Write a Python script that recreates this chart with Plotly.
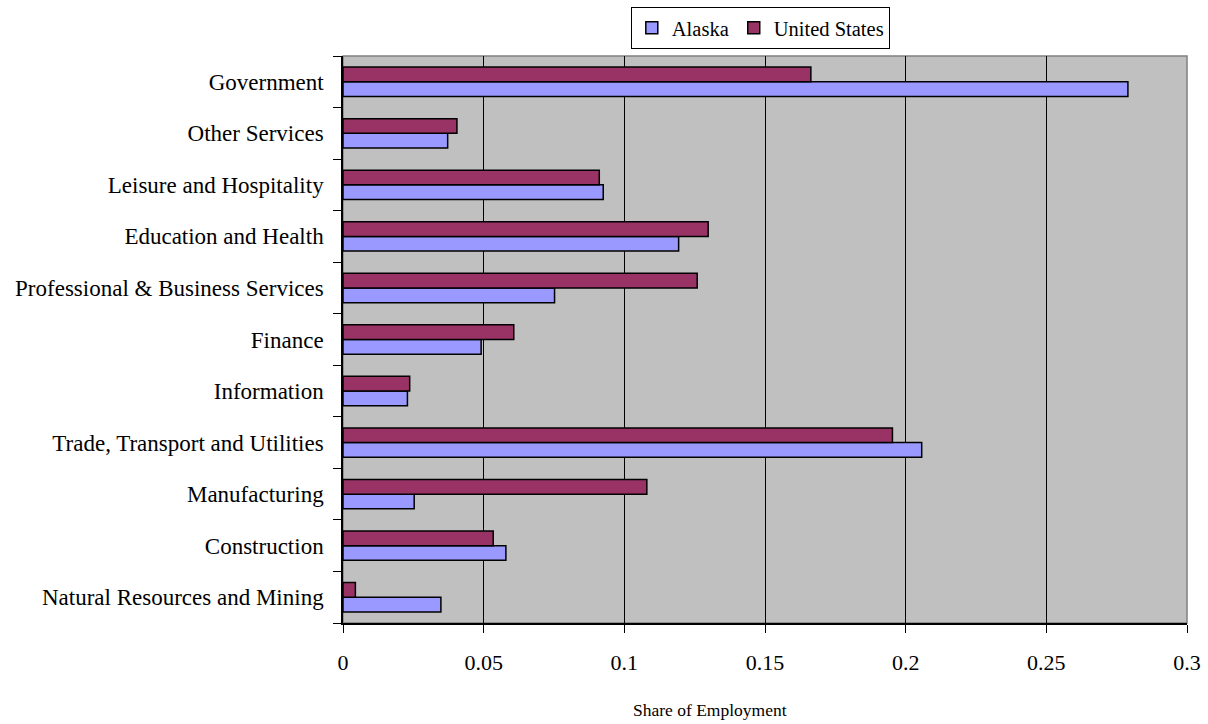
import plotly.graph_objects as go

categories = [
    "Natural Resources and Mining", "Construction", "Manufacturing",
    "Trade, Transport and Utilities", "Information", "Finance",
    "Professional & Business Services", "Education and Health",
    "Leisure and Hospitality", "Other Services", "Government",
]
alaska = [0.0348, 0.0579, 0.0253, 0.2057, 0.0229, 0.0491, 0.0752, 0.1193, 0.0925, 0.0372, 0.279]
united_states = [0.0044, 0.0534, 0.108, 0.1953, 0.0237, 0.0607, 0.1259, 0.1298, 0.0911, 0.0405, 0.1663]
x_ticks = [0, 0.05, 0.1, 0.15, 0.2, 0.25, 0.3]
x_tick_labels = ["0", "0.05", "0.1", "0.15", "0.2", "0.25", "0.3"]

FONT = "Liberation Serif"

fig = go.Figure()
fig.add_trace(go.Bar(
    y=categories, x=alaska, name="Alaska", orientation="h",
    marker=dict(color="#9999FF", line=dict(color="black", width=1.5)),
))
fig.add_trace(go.Bar(
    y=categories, x=united_states, name="United States", orientation="h",
    marker=dict(color="#993366", line=dict(color="black", width=1.5)),
))

fig.update_layout(
    width=1208, height=724,
    margin=dict(l=343, r=21, t=56, b=101, autoexpand=False),
    paper_bgcolor="white", plot_bgcolor="#C0C0C0",
    barmode="group", bargap=0.43, bargroupgap=0,
    font=dict(family=FONT, size=22, color="black"),
    showlegend=True,
    legend=dict(
        orientation="h", x=0.341, xanchor="left", y=1.0864, yanchor="top",
        bordercolor="black", borderwidth=1, bgcolor="white",
        font=dict(family=FONT, size=20.5), tracegroupgap=0, itemwidth=30,
    ),
    xaxis=dict(
        range=[0, 0.3], tickvals=x_ticks, ticktext=x_tick_labels,
        showgrid=True, gridcolor="black", gridwidth=1,
        showline=True, linecolor="black", linewidth=1.5,
        ticks="outside", ticklen=8, tickcolor="black",
        ticklabelstandoff=11, zeroline=False, automargin=False,
        tickfont=dict(family=FONT, size=22),
    ),
    yaxis=dict(
        categoryorder="array", categoryarray=categories,
        showline=True, linecolor="black", linewidth=1.5,
        ticks="outside", ticklen=8, tickcolor="black", tickson="boundaries",
        showgrid=False, ticklabelstandoff=13, automargin=False,
        tickfont=dict(family=FONT, size=23),
    ),
    shapes=[dict(type="rect", xref="paper", yref="paper", x0=0, x1=1, y0=0, y1=1,
                 line=dict(color="#808080", width=1.5), layer="below")],
    annotations=[dict(text="Share of Employment", xref="paper", yref="paper",
                      x=(710 - 343) / 844, y=-(710 - 623) / 567, xanchor="center", yanchor="middle",
                      showarrow=False, font=dict(family=FONT, size=17.5))],
)

fig.write_html("out.html", config={"displayModeBar": False},
               post_script="document.body.style.margin='0';document.body.style.padding='0';")
